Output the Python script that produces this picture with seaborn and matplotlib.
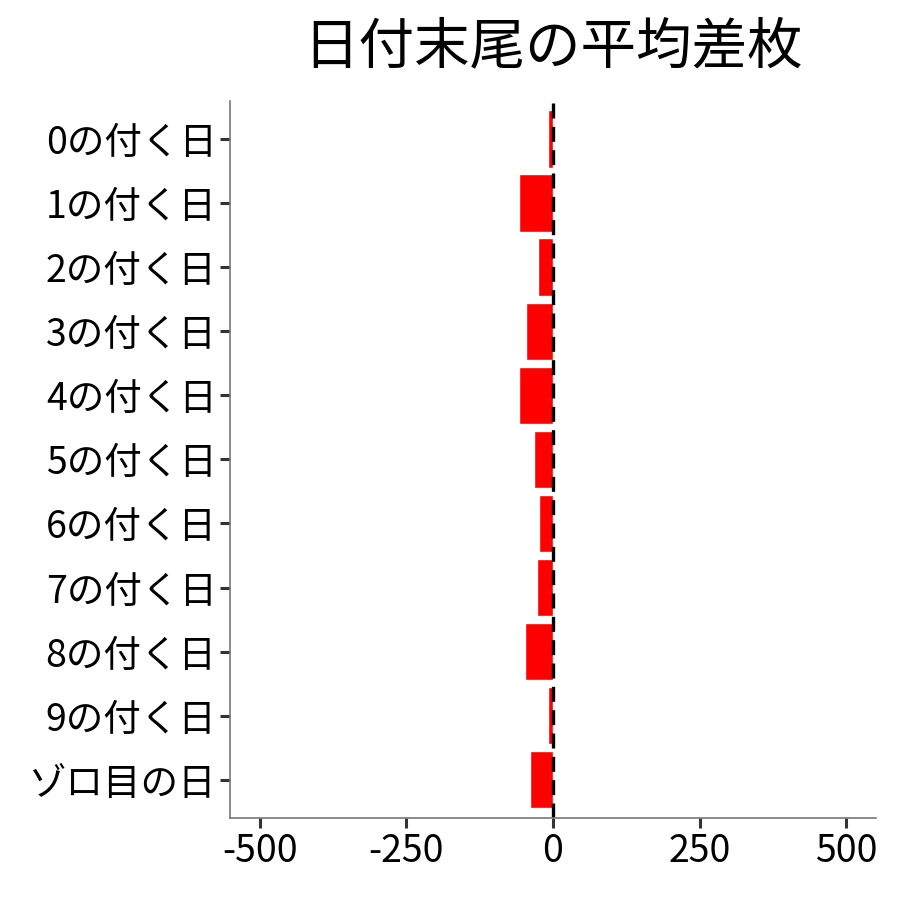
import matplotlib
matplotlib.use("Agg")
import matplotlib.pyplot as plt
import seaborn as sns
import pandas as pd

# データ
categories = ["0の付く日", "1の付く日", "2の付く日", "3の付く日", "4の付く日",
              "5の付く日", "6の付く日", "7の付く日", "8の付く日", "9の付く日",
              "ゾロ目の日"]
avg_diff = [-9, -58, -26, -46, -58, -32, -24, -27, -48, -9, -39]
x_ticks = [-500, -250, 0, 250, 500]

df = pd.DataFrame({"日付": categories, "平均差枚": avg_diff})

sns.set_style("white")
plt.rcParams["font.family"] = ["Noto Sans CJK JP", "DejaVu Sans"]

fig, ax = plt.subplots(figsize=(9, 9), dpi=100)
sns.barplot(data=df, x="平均差枚", y="日付", orient="h", color="#FF0000",
            saturation=1, width=0.9, ax=ax)
ax.axvline(0, color="black", lw=2.4, linestyle=(0, (4.5, 2.5)))

ax.set_xlim(-550, 550)
ax.set_ylim(len(categories) - 0.4, -0.6)
ax.set_xticks(x_ticks)
ax.set_xticklabels([str(v) for v in x_ticks])
ax.set_xlabel("")
ax.set_ylabel("")
ax.set_title("日付末尾の平均差枚", fontsize=40, pad=27, color="black")

ax.tick_params(axis="both", labelsize=27, length=7, width=2.2, color="#333333",
               labelcolor="black", pad=3, bottom=True, left=True)
for side in ["top", "right"]:
    ax.spines[side].set_visible(False)
for side in ["left", "bottom"]:
    ax.spines[side].set_color("#777777")
    ax.spines[side].set_linewidth(1.2)

fig.subplots_adjust(left=0.256, right=0.973, top=0.888, bottom=0.091)
plt.savefig("out.png", dpi=100)
plt.close()
